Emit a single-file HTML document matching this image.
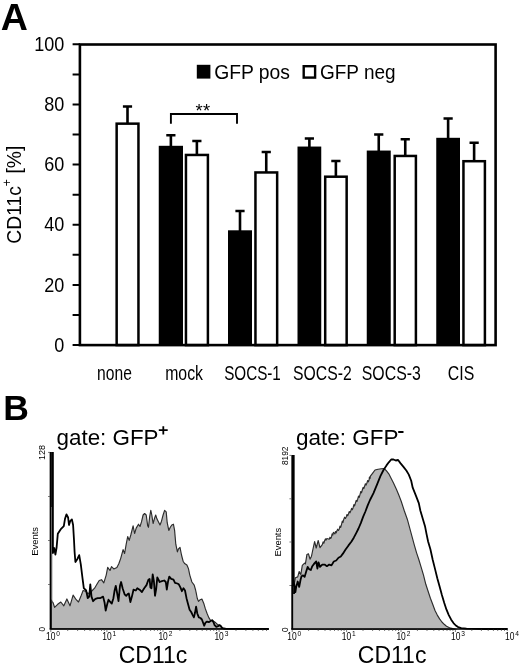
<!DOCTYPE html>
<html><head><meta charset="utf-8"><title>Figure</title>
<style>
html,body{margin:0;padding:0;background:#fff;}
body{width:520px;height:666px;overflow:hidden;font-family:"Liberation Sans",sans-serif;}
svg{display:block;filter:grayscale(1);}
svg text{font-family:"Liberation Sans",sans-serif;fill:#000;}
</style></head><body>
<svg width="520" height="666" viewBox="0 0 520 666">
<rect width="520" height="666" fill="#fff"/>
<!-- Panel A -->
<text x="0.8" y="30" font-size="37.6" font-weight="bold">A</text>
<g>
<rect x="116.65" y="123.65" width="21.80" height="221.45" fill="#fff" stroke="#000" stroke-width="2.5"/>
<path d="M127.50 123.40V106.20M122.90 106.50H132.10" stroke="#000" stroke-width="2.6" fill="none"/>
<rect x="158.75" y="145.80" width="24.25" height="199.30" fill="#000"/>
<path d="M170.88 146.80V135.00M166.28 135.30H175.47" stroke="#000" stroke-width="2.6" fill="none"/>
<rect x="185.95" y="154.95" width="21.95" height="190.15" fill="#fff" stroke="#000" stroke-width="2.5"/>
<path d="M196.88 154.70V140.65M192.28 140.95H201.47" stroke="#000" stroke-width="2.6" fill="none"/>
<rect x="228.00" y="230.30" width="24.00" height="114.80" fill="#000"/>
<path d="M240.00 231.30V210.65M235.40 210.95H244.60" stroke="#000" stroke-width="2.6" fill="none"/>
<rect x="255.45" y="172.45" width="21.70" height="172.65" fill="#fff" stroke="#000" stroke-width="2.5"/>
<path d="M266.25 172.20V151.65M261.65 151.95H270.85" stroke="#000" stroke-width="2.6" fill="none"/>
<rect x="297.50" y="146.55" width="23.75" height="198.55" fill="#000"/>
<path d="M309.38 147.55V138.15M304.77 138.45H313.98" stroke="#000" stroke-width="2.6" fill="none"/>
<rect x="325.20" y="176.70" width="21.45" height="168.40" fill="#fff" stroke="#000" stroke-width="2.5"/>
<path d="M335.88 176.45V160.65M331.27 160.95H340.48" stroke="#000" stroke-width="2.6" fill="none"/>
<rect x="366.75" y="150.55" width="24.00" height="194.55" fill="#000"/>
<path d="M378.75 151.55V134.15M374.15 134.45H383.35" stroke="#000" stroke-width="2.6" fill="none"/>
<rect x="394.70" y="155.95" width="21.20" height="189.15" fill="#fff" stroke="#000" stroke-width="2.5"/>
<path d="M405.25 155.70V138.90M400.65 139.20H409.85" stroke="#000" stroke-width="2.6" fill="none"/>
<rect x="436.25" y="137.80" width="23.75" height="207.30" fill="#000"/>
<path d="M448.12 138.80V118.15M443.52 118.45H452.73" stroke="#000" stroke-width="2.6" fill="none"/>
<rect x="463.45" y="161.20" width="21.45" height="183.90" fill="#fff" stroke="#000" stroke-width="2.5"/>
<path d="M474.12 160.95V142.40M469.52 142.70H478.73" stroke="#000" stroke-width="2.6" fill="none"/>
</g>
<rect x="79.9" y="44.5" width="415.7" height="300.6" fill="none" stroke="#000" stroke-width="2.6"/>
<path d="M72.6 44.30H80M72.6 74.38H80M72.6 104.46H80M72.6 134.54H80M72.6 164.62H80M72.6 194.70H80M72.6 224.78H80M72.6 254.86H80M72.6 284.94H80M72.6 315.02H80M72.6 345.10H80" stroke="#000" stroke-width="2" fill="none"/>
<text transform="translate(64.2,51.0) scale(0.875,1)" text-anchor="end" font-size="20.6">100</text><text transform="translate(64.2,111.1) scale(0.875,1)" text-anchor="end" font-size="20.6">80</text><text transform="translate(64.2,171.3) scale(0.875,1)" text-anchor="end" font-size="20.6">60</text><text transform="translate(64.2,231.4) scale(0.875,1)" text-anchor="end" font-size="20.6">40</text><text transform="translate(64.2,291.6) scale(0.875,1)" text-anchor="end" font-size="20.6">20</text><text transform="translate(64.2,351.7) scale(0.875,1)" text-anchor="end" font-size="20.6">0</text>
<text transform="translate(20.5,243.7) rotate(-90)" font-size="19.6" textLength="98" lengthAdjust="spacingAndGlyphs">CD11c<tspan font-size="12.5" dy="-10">+</tspan><tspan dy="10"> [%]</tspan></text>
<text x="97.10" y="380.1" font-size="20.8" textLength="34.8" lengthAdjust="spacingAndGlyphs">none</text><text x="165.20" y="380.1" font-size="20.8" textLength="37.8" lengthAdjust="spacingAndGlyphs">mock</text><text x="224.15" y="380.1" font-size="20.8" textLength="56.7" lengthAdjust="spacingAndGlyphs">SOCS-1</text><text x="293.10" y="380.1" font-size="20.8" textLength="58.6" lengthAdjust="spacingAndGlyphs">SOCS-2</text><text x="361.80" y="380.1" font-size="20.8" textLength="59" lengthAdjust="spacingAndGlyphs">SOCS-3</text><text x="447.80" y="380.1" font-size="20.8" textLength="26.4" lengthAdjust="spacingAndGlyphs">CIS</text>
<!-- legend -->
<rect x="196.8" y="64.8" width="13.6" height="13.8" fill="#000"/>
<text x="214.2" y="78.9" font-size="20.6" textLength="75.8" lengthAdjust="spacingAndGlyphs">GFP pos</text>
<rect x="303.7" y="66.2" width="11.4" height="11.4" fill="#fff" stroke="#000" stroke-width="2.4"/>
<text x="320" y="78.9" font-size="20.6" textLength="75.6" lengthAdjust="spacingAndGlyphs">GFP neg</text>
<!-- significance bracket -->
<path d="M170.9 123.7V114H237V123.7" stroke="#000" stroke-width="1.9" fill="none"/>
<text x="202.8" y="117.2" font-size="18.4" text-anchor="middle" textLength="14.6" lengthAdjust="spacing">**</text>

<!-- Panel B -->
<text x="3.2" y="420" font-size="35.5" font-weight="bold">B</text>
<text x="56.5" y="445.2" font-size="22.4">gate: GFP</text>
<path d="M163.3 426.2V434.5M158.8 430.2H167.7" stroke="#000" stroke-width="1.8" fill="none"/>
<text x="296" y="445.2" font-size="22.5">gate: GFP</text>
<path d="M398.2 432H403.5" stroke="#000" stroke-width="2" fill="none"/>

<!-- left histogram -->
<polygon points="51.2,628.8 51.2,600.0 53.1,602.8 54.6,607.4 57.7,604.3 60.8,602.0 63.8,605.8 66.9,598.9 70.0,605.8 73.1,595.1 76.2,599.7 78.5,602.0 80.8,596.6 83.1,590.5 85.4,591.2 87.7,593.5 90.0,592.8 92.3,590.5 94.6,588.2 96.9,584.3 99.2,580.5 101.5,579.7 103.8,582.8 106.2,575.1 107.7,567.4 110.0,570.5 111.5,566.6 113.8,568.9 116.9,567.4 118.8,563.8 120.8,558.1 123.1,549.6 124.6,553.5 126.2,544.2 127.7,536.5 129.2,540.4 130.8,535.0 133.1,525.8 134.6,533.5 136.2,528.1 138.5,524.2 140.0,526.5 141.5,521.9 143.1,515.0 144.6,513.5 146.2,515.0 147.7,525.8 148.5,527.3 149.7,516.5 150.8,510.4 151.8,515.0 153.1,523.5 154.6,518.1 155.7,515.0 156.9,518.8 158.5,521.9 160.0,525.0 161.5,521.2 163.1,515.0 164.6,510.4 166.2,511.9 167.2,522.7 168.8,530.4 170.3,527.3 171.8,525.0 173.4,524.2 174.6,530.4 175.8,544.2 177.4,551.9 178.5,548.8 180.0,547.3 181.5,555.0 183.1,561.2 184.6,563.5 186.9,565.0 188.5,568.8 189.8,575.1 191.9,582.0 194.2,585.1 195.6,590.0 196.2,592.8 197.3,598.5 198.5,601.4 200.2,599.7 201.9,599.1 203.7,603.2 205.4,608.9 207.1,613.5 208.8,617.6 210.6,620.5 212.3,619.9 214.0,621.6 215.8,622.8 217.5,624.5 219.2,625.1 221.0,626.8 222.7,628.0 225.0,628.8" fill="#b7b7b7" stroke="#2c2c2c" stroke-width="1.15" stroke-linejoin="round"/>
<path d="M52 507V602" stroke="#9a9a9a" stroke-width="0.9" fill="none"/>
<path d="M51.9 452V507" stroke="#000" stroke-width="1.4" fill="none"/>
<polyline points="52.9,452.0 52.9,553.0 54.2,548.0 55.4,554.5 56.6,547.5 57.8,533.8 60.6,529.4 63.8,526.2 65.0,518.8 66.5,514.4 68.1,517.5 69.0,525.0 70.2,521.2 71.9,519.4 73.1,525.0 74.0,540.0 74.6,552.0 75.4,562.0 77.4,558.9 79.2,555.1 80.8,564.3 82.3,576.6 83.8,588.2 86.2,590.5 87.7,598.2 89.2,596.6 90.3,584.3 91.5,596.6 93.1,601.2 95.4,598.9 97.7,598.2 100.0,598.2 103.1,596.6 104.6,602.8 105.7,610.5 107.2,604.3 108.5,599.7 110.3,602.0 111.8,603.5 113.4,598.2 114.6,590.5 115.8,585.8 117.2,593.5 118.5,601.2 120.0,585.8 121.1,582.0 122.6,588.2 124.6,594.3 126.2,595.8 127.7,594.0 128.8,593.5 130.4,602.0 131.9,596.6 133.5,589.7 135.8,590.5 137.3,588.2 139.6,589.7 141.9,592.0 144.2,588.2 146.5,585.1 148.4,579.7 149.6,578.9 150.4,587.4 151.5,588.2 152.7,574.3 153.9,581.2 155.0,595.8 156.2,588.9 157.3,577.4 158.5,579.7 159.6,582.0 161.9,581.2 164.2,580.5 165.8,582.0 166.8,589.7 168.1,581.2 169.3,576.6 171.2,578.9 173.5,579.7 175.0,582.8 177.3,583.5 178.8,584.3 180.4,587.4 181.9,591.2 183.5,588.2 185.0,590.5 186.5,598.2 188.1,604.3 189.6,609.7 191.2,612.0 192.7,615.1 193.9,617.4 195.0,612.8 196.1,606.6 197.3,613.5 198.8,617.4 200.4,618.0 201.9,619.5 203.1,622.8 204.2,625.7 205.4,622.8 207.1,621.6 208.8,622.2 210.6,621.0 212.3,620.5 213.5,622.2 214.6,625.1 216.3,626.8 218.1,626.2 219.8,625.1 221.0,626.2 222.1,628.0 223.8,628.5 226.2,628.9 268.8,629.0" fill="none" stroke="#000" stroke-width="1.8" stroke-linejoin="round"/>
<path d="M50.6 452V629.4" stroke="#000" stroke-width="1.9" fill="none"/>
<path d="M49.7 628.9H268.8" stroke="#000" stroke-width="1.5" fill="none"/>
<path d="M50.8 629.6v2.4M67.7 629.6v1.4M77.6 629.6v1.4M84.6 629.6v1.4M90.0 629.6v1.4M94.5 629.6v1.4M98.2 629.6v1.4M101.5 629.6v1.4M104.3 629.6v1.4M106.9 629.6v2.4M123.8 629.6v1.4M133.7 629.6v1.4M140.7 629.6v1.4M146.1 629.6v1.4M150.6 629.6v1.4M154.3 629.6v1.4M157.6 629.6v1.4M160.4 629.6v1.4M163.0 629.6v2.4M179.9 629.6v1.4M189.8 629.6v1.4M196.8 629.6v1.4M202.2 629.6v1.4M206.7 629.6v1.4M210.4 629.6v1.4M213.7 629.6v1.4M216.5 629.6v1.4M219.1 629.6v2.4M236.0 629.6v1.4M245.9 629.6v1.4M252.9 629.6v1.4M258.3 629.6v1.4M262.8 629.6v1.4M266.5 629.6v1.4" stroke="#444" stroke-width="0.7" fill="none"/>
<path d="M48 452.4H50M48 496.5H50M48 540.5H50M48 584.5H50" stroke="#444" stroke-width="0.7" fill="none"/>
<text x="46.00" y="639.9" font-size="10.2" textLength="9.4" lengthAdjust="spacingAndGlyphs">10</text><text x="56.30" y="636.2" font-size="6.6">0</text><text x="102.20" y="639.9" font-size="10.2" textLength="9.4" lengthAdjust="spacingAndGlyphs">10</text><text x="112.50" y="636.2" font-size="6.6">1</text><text x="158.40" y="639.9" font-size="10.2" textLength="9.4" lengthAdjust="spacingAndGlyphs">10</text><text x="168.70" y="636.2" font-size="6.6">2</text><text x="214.40" y="639.9" font-size="10.2" textLength="9.4" lengthAdjust="spacingAndGlyphs">10</text><text x="224.70" y="636.2" font-size="6.6">3</text>
<text transform="translate(45.4,452.4) rotate(-90)" font-size="9" text-anchor="middle">128</text>
<text transform="translate(38,555.8) rotate(-90)" font-size="9" textLength="28.8" lengthAdjust="spacingAndGlyphs">Events</text>
<text transform="translate(45.4,629.2) rotate(-90)" font-size="8.4" text-anchor="middle">0</text>
<text x="118.7" y="662.6" font-size="23">CD11c</text>

<!-- right histogram -->
<polygon points="292.5,629.2 292.5,586.2 293.8,586.2 295.4,577.7 297.7,576.9 299.2,571.5 300.8,574.6 302.3,565.4 304.6,563.1 305.4,563.8 306.9,554.6 308.5,553.8 310.0,559.2 311.5,556.2 313.1,548.5 314.6,541.5 316.2,548.0 318.2,540.5 320.0,547.7 322.3,544.6 323.1,541.9 323.8,543.2 324.6,540.8 325.4,538.9 326.1,540.1 326.9,538.5 329.2,539.2 330.0,537.2 330.7,538.5 331.5,536.9 332.1,533.8 332.8,535.1 333.4,532.3 334.9,533.8 335.5,531.5 336.2,532.8 336.9,530.8 337.7,529.2 338.4,530.5 339.2,529.2 340.0,526.1 340.7,527.4 341.5,524.6 342.3,521.1 343.0,522.4 343.8,519.2 344.6,517.2 345.4,518.5 346.2,516.9 347.0,514.5 347.7,515.8 348.5,513.8 349.3,511.5 350.0,512.8 350.8,510.8 351.6,508.4 352.3,509.7 353.1,507.7 353.9,504.6 354.6,505.9 355.4,503.1 356.2,500.3 356.9,501.6 357.7,499.2 358.5,496.1 359.2,497.4 360.0,494.6 360.8,491.5 361.5,492.8 362.3,490.0 363.1,487.3 363.8,488.6 364.6,486.2 365.4,483.8 366.1,485.1 366.9,483.1 367.7,480.5 368.4,481.8 369.2,479.5 369.4,477.1 370.1,478.3 370.4,476.2 372.7,473.1 375.0,470.0 378.1,469.2 381.2,468.8 384.2,468.5 386.5,470.8 388.8,473.8 391.2,478.5 393.5,483.1 396.5,489.5 398.8,495.0 401.2,501.2 404.2,510.5 407.3,519.2 409.6,527.7 411.9,536.2 414.2,544.6 416.5,552.6 418.8,559.5 421.2,567.4 423.5,575.1 425.8,584.3 428.1,591.2 430.4,598.2 432.7,604.3 435.0,610.5 437.3,615.1 439.6,618.9 441.9,622.0 444.2,624.3 446.5,626.2 449.6,627.7 452.7,628.6 456.0,629.2" fill="#b7b7b7" stroke="#2c2c2c" stroke-width="1.15" stroke-linejoin="round"/>
<polyline points="294.0,594.0 294.2,584.0 295.4,592.0 296.2,586.9 297.7,581.5 299.2,586.9 300.5,580.0 301.5,576.2 303.1,575.4 304.6,576.9 306.2,571.5 307.7,566.9 309.2,569.2 310.8,570.0 312.3,566.2 314.6,563.1 316.2,561.5 317.4,568.5 318.5,562.3 320.0,566.9 322.3,564.6 324.6,564.6 326.9,566.2 329.2,564.6 331.5,565.4 333.8,561.5 336.2,560.5 338.5,557.7 340.8,556.5 343.1,553.4 345.4,549.8 348.5,545.4 351.5,541.5 353.8,537.7 356.2,533.1 358.5,528.5 360.8,523.1 363.1,516.9 365.4,511.5 367.7,505.4 370.0,500.0 373.5,493.1 377.3,483.8 380.4,476.2 383.5,470.0 386.5,465.4 388.8,462.3 391.2,459.5 393.5,459.5 395.8,460.5 398.1,460.0 400.4,463.1 403.5,466.9 406.5,470.8 408.8,474.6 411.2,480.8 412.7,487.7 415.8,495.4 418.8,503.1 420.4,510.8 422.7,518.5 425.0,526.2 426.5,533.8 428.1,541.5 430.4,549.2 432.7,559.7 435.0,568.9 437.3,578.2 439.6,586.6 441.9,595.1 444.2,602.8 446.5,609.7 448.8,615.1 451.2,619.7 453.5,623.1 455.8,625.5 458.1,627.1 461.2,628.2 466.5,628.7 485.0,629.0 507.6,629.0" fill="none" stroke="#000" stroke-width="1.8" stroke-linejoin="round"/>
<path d="M293 455V586" stroke="#000" stroke-width="3.3" fill="none"/>
<path d="M292.2 585V629.6" stroke="#000" stroke-width="1.8" fill="none"/>
<path d="M291.3 629.1H507.6" stroke="#000" stroke-width="1.5" fill="none"/>
<path d="M292.2 629.6v2.4M308.6 629.6v1.4M318.2 629.6v1.4M325.0 629.6v1.4M330.2 629.6v1.4M334.5 629.6v1.4M338.2 629.6v1.4M341.3 629.6v1.4M344.1 629.6v1.4M346.6 629.6v2.4M363.0 629.6v1.4M372.6 629.6v1.4M379.4 629.6v1.4M384.6 629.6v1.4M388.9 629.6v1.4M392.6 629.6v1.4M395.7 629.6v1.4M398.5 629.6v1.4M401.0 629.6v2.4M417.4 629.6v1.4M427.0 629.6v1.4M433.8 629.6v1.4M439.0 629.6v1.4M443.3 629.6v1.4M447.0 629.6v1.4M450.1 629.6v1.4M452.9 629.6v1.4M455.4 629.6v2.4M471.8 629.6v1.4M481.4 629.6v1.4M488.2 629.6v1.4M493.4 629.6v1.4M497.7 629.6v1.4M501.4 629.6v1.4M504.5 629.6v1.4M507.3 629.6v1.4" stroke="#444" stroke-width="0.7" fill="none"/>
<path d="M289.4 455.4H291.4M289.4 498.8H291.4M289.4 542H291.4M289.4 585.5H291.4" stroke="#444" stroke-width="0.7" fill="none"/>
<text x="287.30" y="639.9" font-size="10.2" textLength="9.4" lengthAdjust="spacingAndGlyphs">10</text><text x="297.60" y="636.2" font-size="6.6">0</text><text x="341.80" y="639.9" font-size="10.2" textLength="9.4" lengthAdjust="spacingAndGlyphs">10</text><text x="352.10" y="636.2" font-size="6.6">1</text><text x="396.40" y="639.9" font-size="10.2" textLength="9.4" lengthAdjust="spacingAndGlyphs">10</text><text x="406.70" y="636.2" font-size="6.6">2</text><text x="451.00" y="639.9" font-size="10.2" textLength="9.4" lengthAdjust="spacingAndGlyphs">10</text><text x="461.30" y="636.2" font-size="6.6">3</text><text x="505.00" y="639.9" font-size="10.2" textLength="9.4" lengthAdjust="spacingAndGlyphs">10</text><text x="515.30" y="636.2" font-size="6.6">4</text>
<text transform="translate(287.6,455.8) rotate(-90)" font-size="8.4" text-anchor="middle">8192</text>
<text transform="translate(281.4,556.6) rotate(-90)" font-size="9" textLength="28.8" lengthAdjust="spacingAndGlyphs">Events</text>
<text transform="translate(287.8,629.6) rotate(-90)" font-size="8.4" text-anchor="middle">0</text>
<text x="357.8" y="662.6" font-size="23">CD11c</text>
</svg>
</body></html>
